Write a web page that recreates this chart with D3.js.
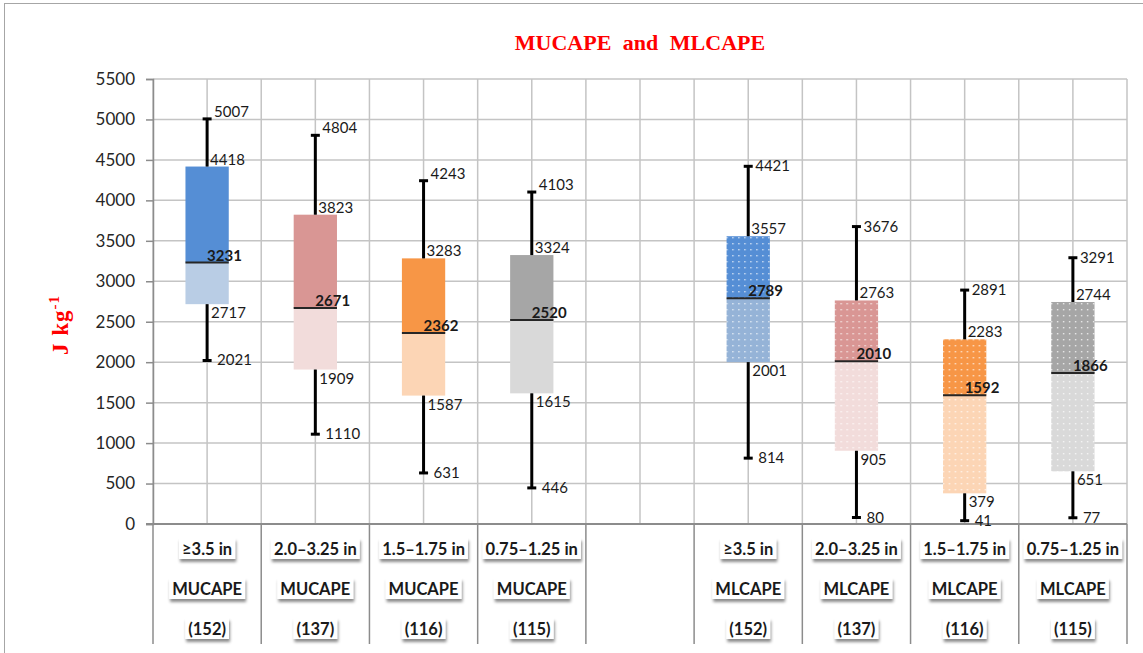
<!DOCTYPE html>
<html>
<head>
<meta charset="utf-8">
<script src="https://cdn.jsdelivr.net/npm/d3@7"></script>
<style>
  body { margin: 0; background: #fff; }
  text { font-family: Lato, "Open Sans", sans-serif; }
</style>
</head>
<body>
<div class="chart"></div>
<script>
// --- data ---
var groups = ["MUCAPE", "MLCAPE"];
var sizes = ["≥3.5 in", "2.0–3.25 in", "1.5–1.75 in", "0.75–1.25 in"];
var counts = [152, 137, 116, 115];

var mucapeMax = [5007, 4804, 4243, 4103];
var mucapeQ3  = [4418, 3823, 3283, 3324];
var mucapeMed = [3231, 2671, 2362, 2520];
var mucapeQ1  = [2717, 1909, 1587, 1615];
var mucapeMin = [2021, 1110, 631, 446];

var mlcapeMax = [4421, 3676, 2891, 3291];
var mlcapeQ3  = [3557, 2763, 2283, 2744];
var mlcapeMed = [2789, 2010, 1592, 1866];
var mlcapeQ1  = [2001, 905, 379, 651];
var mlcapeMin = [814, 80, 41, 77];

var yTicks = [0, 500, 1000, 1500, 2000, 2500, 3000, 3500, 4000, 4500, 5000, 5500];

// colours (upper half of box / lower half of box)
var upperColors = ["#558ED5", "#D99694", "#F79646", "#A6A6A6"];
var lowerColors = ["#B9CDE5", "#F2DCDB", "#FCD5B5", "#D9D9D9"];
var mlLowerColors = ["#95B3D7", "#F2DCDB", "#FCD5B5", "#D9D9D9"];

var svgWidth = 1143;
var svgHeight = 653;
var margin = { top: 79, right: 16, bottom: 129, left: 153 };
var width = 1127 - margin.left;
var height = 524 - margin.top;

var root = d3.select('.chart')
  .append('svg')
  .attr('width', svgWidth)
  .attr('height', svgHeight)
  .style('display', 'block');

root.append('rect')
  .attr('width', svgWidth).attr('height', svgHeight)
  .attr('fill', '#fff');

// outer frame
root.append('rect')
  .attr('x', 4.5).attr('y', 3.5)
  .attr('width', 1160).attr('height', 670)
  .attr('fill', 'none')
  .attr('stroke', '#A6A6A6');

var defs = root.append('defs');

var shadow = defs.append('filter').attr('id', 'shadow')
  .attr('x', '-20%').attr('y', '-30%').attr('width', '140%').attr('height', '190%');
shadow.append('feDropShadow')
  .attr('dx', 1).attr('dy', 3).attr('stdDeviation', 1.8)
  .attr('flood-color', '#000').attr('flood-opacity', 0.45);

// dotted fills for the MLCAPE boxes
function dotPattern(id, color) {
  var p = defs.append('pattern')
    .attr('id', id)
    .attr('patternUnits', 'userSpaceOnUse')
    .attr('width', 6).attr('height', 6);
  p.append('rect').attr('width', 6).attr('height', 6).attr('fill', color);
  p.append('rect').attr('x', 2).attr('y', 2).attr('width', 1.4).attr('height', 1.4)
    .attr('fill', '#fff').attr('opacity', 0.75);
  return 'url(#' + id + ')';
}

// build box records
var boxes = [];
groups.forEach(function(g) {
  sizes.forEach(function(s, i) {
    var ml = g === "MLCAPE";
    boxes.push({
      key: g + i,
      group: g,
      size: s,
      count: counts[i],
      max: ml ? mlcapeMax[i] : mucapeMax[i],
      q3: ml ? mlcapeQ3[i] : mucapeQ3[i],
      med: ml ? mlcapeMed[i] : mucapeMed[i],
      q1: ml ? mlcapeQ1[i] : mucapeQ1[i],
      min: ml ? mlcapeMin[i] : mucapeMin[i],
      upper: ml ? dotPattern('up' + i, upperColors[i]) : upperColors[i],
      lower: ml ? dotPattern('lo' + i, mlLowerColors[i]) : lowerColors[i]
    });
  });
});

var slots = boxes.slice(0, 4).map(function(d) { return d.key; })
  .concat(["gap"])
  .concat(boxes.slice(4).map(function(d) { return d.key; }));

var xScale = d3.scaleBand().domain(slots).range([0, width]).padding(0);
var yScale = d3.scaleLinear().domain([0, 5500]).range([height, 0]);
var bw = xScale.bandwidth();
var boxW = bw * 0.4;

var chart = root.append('g')
  .attr('transform', 'translate(' + margin.left + ',' + margin.top + ')');

// grid: horizontal
chart.append('g').selectAll('line')
  .data(yTicks)
  .enter().append('line')
  .attr('x1', 0).attr('x2', width)
  .attr('y1', function(d) { return yScale(d); })
  .attr('y2', function(d) { return yScale(d); })
  .attr('stroke', '#C4C4C4').attr('stroke-width', 1.5);

// grid: vertical, at band edges and centres
var vLines = [];
slots.forEach(function(k) {
  vLines.push(xScale(k));
  vLines.push(xScale(k) + bw / 2);
});
vLines.push(width);
chart.append('g').selectAll('line')
  .data(vLines)
  .enter().append('line')
  .attr('x1', function(d) { return d; }).attr('x2', function(d) { return d; })
  .attr('y1', 0).attr('y2', height)
  .attr('stroke', '#C4C4C4').attr('stroke-width', 1.5);

// y axis
var leftAxis = d3.axisLeft(yScale)
  .tickValues(yTicks)
  .tickFormat(d3.format('d'))
  .tickSize(7)
  .tickPadding(11);
var yAxis = chart.append('g').call(leftAxis);
yAxis.select('.domain').attr('stroke', '#8C8C8C').attr('stroke-width', 1.5);
yAxis.selectAll('.tick line').attr('stroke', '#8C8C8C').attr('stroke-width', 1.5);
yAxis.selectAll('.tick text')
  .attr('fill', '#262626')
  .style('font-family', 'Lato, sans-serif')
  .style('font-size', '17px');

// x axis baseline
chart.append('line')
  .attr('x1', -7).attr('x2', width)
  .attr('y1', height).attr('y2', height)
  .attr('stroke', '#8C8C8C').attr('stroke-width', 2);

// separators in the category label area
var seps = slots.map(function(k) { return xScale(k); }).concat([width]);
chart.append('g').selectAll('line')
  .data(seps)
  .enter().append('line')
  .attr('x1', function(d) { return d; }).attr('x2', function(d) { return d; })
  .attr('y1', height).attr('y2', height + 120)
  .attr('stroke', '#8C8C8C').attr('stroke-width', 1.5);

// boxes
var box = chart.append('g').selectAll('g.box')
  .data(boxes)
  .enter().append('g')
  .attr('class', 'box')
  .attr('transform', function(d) { return 'translate(' + (xScale(d.key) + bw / 2) + ',0)'; });

box.append('rect')
  .attr('x', -boxW / 2).attr('width', boxW)
  .attr('y', function(d) { return yScale(d.q3); })
  .attr('height', function(d) { return yScale(d.med) - yScale(d.q3); })
  .attr('fill', function(d) { return d.upper; });

box.append('rect')
  .attr('x', -boxW / 2).attr('width', boxW)
  .attr('y', function(d) { return yScale(d.med); })
  .attr('height', function(d) { return yScale(d.q1) - yScale(d.med); })
  .attr('fill', function(d) { return d.lower; });

box.append('line')
  .attr('x1', -boxW / 2).attr('x2', boxW / 2)
  .attr('y1', function(d) { return yScale(d.med); })
  .attr('y2', function(d) { return yScale(d.med); })
  .attr('stroke', '#262626').attr('stroke-width', 2);

// whiskers
box.append('line')
  .attr('x1', 0).attr('x2', 0)
  .attr('y1', function(d) { return yScale(d.max); })
  .attr('y2', function(d) { return yScale(d.q3); })
  .attr('stroke', '#000').attr('stroke-width', 3);
box.append('line')
  .attr('x1', 0).attr('x2', 0)
  .attr('y1', function(d) { return yScale(d.q1); })
  .attr('y2', function(d) { return yScale(d.min); })
  .attr('stroke', '#000').attr('stroke-width', 3);
['max', 'min'].forEach(function(f) {
  box.append('line')
    .attr('x1', -4.5).attr('x2', 4.5)
    .attr('y1', function(d) { return yScale(d[f]); })
    .attr('y2', function(d) { return yScale(d[f]); })
    .attr('stroke', '#000').attr('stroke-width', 3);
});

// value labels
function addLabel(field, dx, dy, bold) {
  box.append('text')
    .attr('x', dx)
    .attr('y', function(d) {
      var off = typeof dy === 'function' ? dy(d) : dy;
      return yScale(d[field]) + off;
    })
    .attr('fill', '#1A1A1A')
    .style('font-size', '15px')
    .style('font-weight', bold ? 'bold' : 'normal')
    .text(function(d) { return d[field]; });
}
addLabel('max', 7, function(d) { return d.group === 'MUCAPE' ? -2 : 5; });
addLabel('q3', 3, -2);
addLabel('med', 0, -2, true);
addLabel('q1', 4, 14);
addLabel('min', 10, 5);

// category labels with white, shadowed backing
var rowY = [549, 589, 629];
boxes.forEach(function(d) {
  var cx = margin.left + xScale(d.key) + bw / 2;
  var lines = [d.size, d.group, '(' + d.count + ')'];
  lines.forEach(function(t, r) {
    var g = root.append('g');
    var bg = g.append('rect');
    var txt = g.append('text')
      .attr('x', cx).attr('y', rowY[r])
      .attr('dy', '0.35em')
      .attr('text-anchor', 'middle')
      .attr('fill', '#1A1A1A')
      .style('font-size', '16.5px')
      .style('font-weight', 'bold')
      .text(t);
    var w = txt.node().getComputedTextLength();
    bg.attr('x', cx - w / 2 - 3).attr('y', rowY[r] - 11)
      .attr('width', w + 6).attr('height', 21)
      .attr('fill', '#fff')
      .attr('filter', 'url(#shadow)');
  });
});

// title
root.append('text')
  .attr('x', margin.left + width / 2)
  .attr('y', 50)
  .attr('text-anchor', 'middle')
  .attr('fill', '#FF0000')
  .style('font-family', '"Liberation Serif", serif')
  .style('font-size', '22px')
  .style('font-weight', 'bold')
  .style('word-spacing', '6px')
  .text('MUCAPE and MLCAPE');

// y axis label
var yl = root.append('text')
  .attr('transform', 'translate(68,325) rotate(-90)')
  .attr('text-anchor', 'middle')
  .attr('fill', '#FF0000')
  .style('font-family', '"Liberation Serif", serif')
  .style('font-size', '23px')
  .style('font-weight', 'bold')
  .style('letter-spacing', '1px');
yl.append('tspan').text('J kg');
yl.append('tspan').attr('dy', -9).style('font-size', '15px').text('-1');
</script>
</body>
</html>
